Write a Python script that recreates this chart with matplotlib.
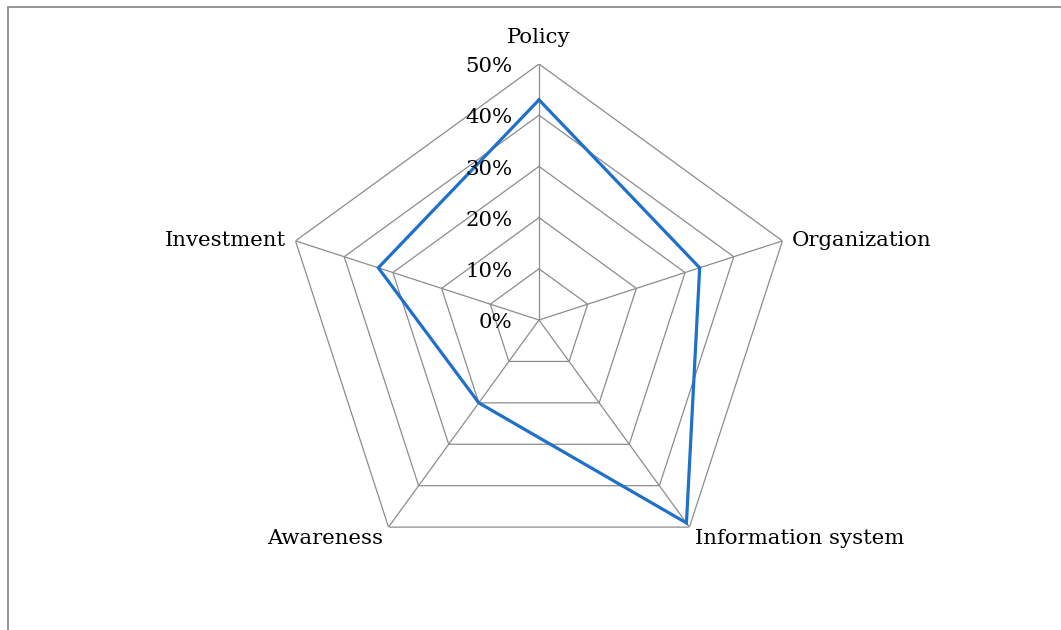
import numpy as np
import matplotlib
matplotlib.use('Agg')
import matplotlib.pyplot as plt
from matplotlib.patches import Rectangle

categories = ['Policy', 'Organization', 'Information system', 'Awareness', 'Investment']
values = [0.43, 0.33, 0.49, 0.20, 0.33]
ring_levels = [0.0, 0.1, 0.2, 0.3, 0.4, 0.5]
ring_labels = ['0%', '10%', '20%', '30%', '40%', '50%']

plt.rcParams['font.family'] = ['DejaVu Serif']

fig = plt.figure(figsize=(10.61, 6.30), dpi=100)
ax = fig.add_axes([0.2667, 0.0857, 0.4826, 0.8127], projection='polar')
ax.set_theta_offset(np.pi / 2)
ax.set_theta_direction(-1)
ax.set_ylim(0, 0.5)
ax.grid(False)
ax.spines['polar'].set_visible(False)
ax.set_xticks([])
ax.set_yticks([])
ax.patch.set_alpha(0)

n = len(categories)
angles = np.linspace(0, 2 * np.pi, n, endpoint=False)
closed = np.append(angles, angles[0])

grid_col = '#8c8c8c'
# polygon rings
for r in ring_levels[1:]:
    ax.plot(closed, [r] * (n + 1), color=grid_col, lw=0.9, zorder=1)
# spokes
for a in angles:
    ax.plot([a, a], [0, 0.5], color=grid_col, lw=0.9, zorder=1)

# data line
ax.plot(closed, values + values[:1], color='#1f70c8', lw=2.3, zorder=3,
        solid_joinstyle='miter')

fs = 15.3
# radial tick labels
for r, lab in zip(ring_levels, ring_labels):
    ax.annotate(lab, xy=(0, r), xytext=(-19, -2), textcoords='offset points',
                ha='right', va='center', fontsize=fs)

# category labels
offsets = [(0, 12, 'center', 'bottom'),
           (7, 0, 'left', 'center'),
           (4, -8, 'left', 'center'),
           (-4, -8, 'right', 'center'),
           (-7, 0, 'right', 'center')]
for a, lab, (dx, dy, ha, va) in zip(angles, categories, offsets):
    ax.annotate(lab, xy=(a, 0.5), xytext=(dx, dy), textcoords='offset points',
                ha=ha, va=va, fontsize=fs)

# outer frame
fig.add_artist(Rectangle((8 / 1061, -0.05), 1.1, (623 / 630) + 0.05,
                         transform=fig.transFigure, fill=False,
                         edgecolor='#8c8c8c', lw=1.3))

fig.savefig('out.png', dpi=100)
